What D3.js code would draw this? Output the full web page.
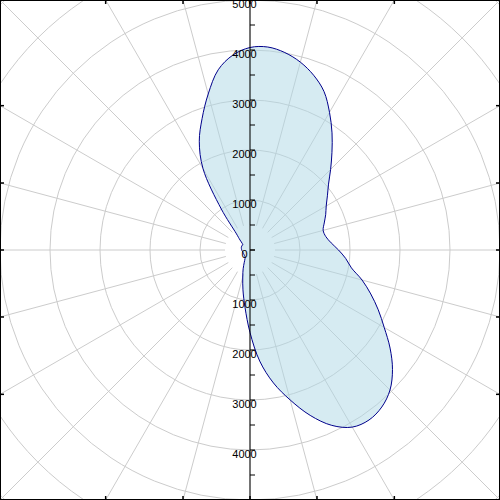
<!DOCTYPE html>
<html>
<head>
<meta charset="utf-8">
<script src="https://cdn.jsdelivr.net/npm/d3@7"></script>
<style>
html,body{margin:0;padding:0;background:#fff;}
svg{display:block;}
</style>
</head>
<body>
<svg id="chart" width="500" height="500"></svg>
<script>
// Angles (degrees, clockwise from north) and radial values
const angles = [0,5,10,15,20,25,30,35,40,45,50,55,60,65,70,75,80,85,90,95,100,105,110,115,120,125,130,135,140,145,150,155,160,165,170,175,180,185,190,195,200,205,210,215,220,225,230,235,240,245,250,255,260,265,270,275,280,285,290,295,300,305,310,315,320,325,330,335,340,345,350,355];
const values = [4050,4075,4010,3890,3720,3500,3180,2860,2550,2280,2050,1890,1760,1670,1580,1515,1540,1630,1770,1920,2060,2320,2570,2830,3100,3420,3720,3960,4100,4150,4090,3870,3520,3105,2700,2230,1650,1150,810,560,400,270,200,170,160,155,150,150,150,150,150,150,155,160,165,170,175,180,180,185,185,175,200,283,420,1000,1880,2400,2800,3230,3660,3914];
const radialTicks = [0,1000,2000,3000,4000,5000];
const minorTicks = [500,1500,2500,3500,4500];
const gridCircles = [1000,2000,3000,4000,5000,6000,7000];
const spokeAngles = d3.range(0,360,15);

const W = 500, H = 500, cx = 250, cy = 250;
const svg = d3.select("#chart");
const r = d3.scaleLinear().domain([0,5000]).range([0,250]);

svg.append("defs").append("clipPath").attr("id","clip")
  .append("rect").attr("x",0).attr("y",0).attr("width",W).attr("height",H);

const g = svg.append("g").attr("clip-path","url(#clip)")
  .append("g").attr("transform",`translate(${cx},${cy})`);

// grid circles
g.selectAll("circle.grid").data(gridCircles).join("circle")
  .attr("class","grid").attr("r",d=>r(d))
  .attr("fill","none").attr("stroke","#cccccc").attr("stroke-width",1);

// spokes
const rad = a => a*Math.PI/180;
g.selectAll("line.spoke").data(spokeAngles).join("line")
  .attr("class","spoke")
  .attr("x1",a=>r(500)*Math.sin(rad(a))).attr("y1",a=>-r(500)*Math.cos(rad(a)))
  .attr("x2",a=>r(9000)*Math.sin(rad(a))).attr("y2",a=>-r(9000)*Math.cos(rad(a)))
  .attr("stroke","#cccccc").attr("stroke-width",1);

// data area
const pts = angles.map((a,i)=>[rad(a), values[i]]);
const line = d3.lineRadial().angle(d=>d[0]).radius(d=>r(d[1])).curve(d3.curveCatmullRomClosed.alpha(0.5));
g.append("path").datum(pts)
  .attr("d",line)
  .attr("fill","rgba(173,216,230,0.5)")
  .attr("stroke","#00008b").attr("stroke-width",1);

// vertical axis
const y = d3.scaleLinear().domain([0,5000]).range([0,250]);
const ax = svg.append("g").attr("transform",`translate(${cx},${cy})`);
ax.append("line").attr("x1",0).attr("x2",0).attr("y1",-250).attr("y2",250)
  .attr("stroke","#000").attr("stroke-width",1);
const allTicks = radialTicks.concat(minorTicks);
[-1,1].forEach(s=>{
  ax.selectAll(null).data(allTicks).join("line")
    .attr("x1",0).attr("x2",5)
    .attr("y1",d=>s*y(d)).attr("y2",d=>s*y(d))
    .attr("stroke","#000").attr("stroke-width",1);
  ax.selectAll(null).data(radialTicks.filter(d=>!(s===1&&d===0))).join("text")
    .attr("x",-5.5).attr("y",d=>s*y(d)+7.5)
    .attr("text-anchor","middle")
    .attr("font-family","Liberation Sans, Arial, sans-serif").attr("font-size",11)
    .attr("fill","#000")
    .text(d=>d);
});

// frame
svg.append("rect").attr("x",0.5).attr("y",0.5).attr("width",W-1).attr("height",H-1)
  .attr("fill","none").attr("stroke","#000").attr("stroke-width",1);

// frame ticks where spokes meet the border
const edgeTicks = [];
spokeAngles.forEach(a=>{
  const dx = Math.sin(rad(a)), dy = -Math.cos(rad(a));
  const tx = Math.abs(dx)>1e-9 ? 250/Math.abs(dx) : Infinity;
  const ty = Math.abs(dy)>1e-9 ? 250/Math.abs(dy) : Infinity;
  const t = Math.min(tx,ty);
  const px = cx + dx*t, py = cy + dy*t;
  if (Math.abs(tx-ty)<1e-6) return; // corner
  if (tx<ty) edgeTicks.push({x1:px,y1:py,x2:px-Math.sign(dx)*4,y2:py});
  else edgeTicks.push({x1:px,y1:py,x2:px,y2:py-Math.sign(dy)*4});
});
svg.selectAll("line.edge").data(edgeTicks).join("line")
  .attr("class","edge")
  .attr("x1",d=>d.x1).attr("y1",d=>d.y1).attr("x2",d=>d.x2).attr("y2",d=>d.y2)
  .attr("stroke","#000").attr("stroke-width",1.5);
</script>
</body>
</html>
